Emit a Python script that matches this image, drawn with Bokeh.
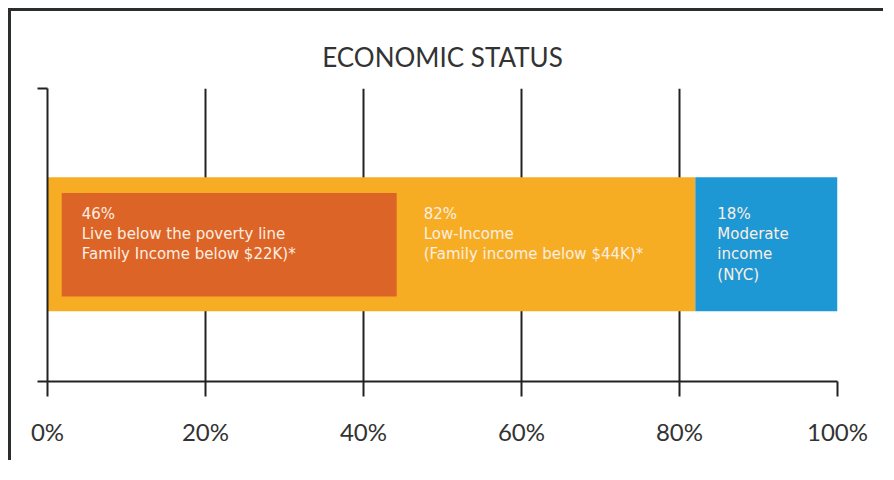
from bokeh.plotting import figure
from bokeh.models import Range1d, FixedTicker, LinearAxis, ColumnDataSource
from bokeh.embed import file_html
from bokeh.resources import INLINE
from bokeh.core.properties import value

# ---- data ----
title_text = "ECONOMIC STATUS"
segment_names = ["Low-Income", "Moderate income"]
segment_left = [0, 82]
segment_right = [82, 100]
segment_colors = ["#F6AD23", "#1E98D5"]

inner_name = ["Live below the poverty line"]
inner_left = [1.8]
inner_right = [44.2]
inner_colors = ["#DD6427"]

values = [46, 82, 18]
label_texts = [
    "46%\nLive below the poverty line\nFamily Income below $22K)*",
    "82%\nLow-Income\n(Family income below $44K)*",
    "18%\nModerate\nincome\n(NYC)",
]

tick_values = [0, 20, 40, 60, 80, 100]
tick_labels = ["0%", "20%", "40%", "60%", "80%", "100%"]

FONT = "Lato"
INK = "#222222"

p = figure(
    width=875, height=452,
    x_range=Range1d(0, 100), y_range=Range1d(0, 1),
    output_backend="svg", toolbar_location=None,
    x_axis_location=None, y_axis_location=None,
    min_border_left=36, min_border_right=49, min_border_top=77, min_border_bottom=82,
    styles={"border-left": "3px solid #2a2e2e", "border-top": "3px solid #2a2e2e",
            "margin-left": "8px", "margin-top": "8px"},
)
p.outline_line_color = None
p.background_fill_color = "white"
p.border_fill_color = "white"

p.title.text = title_text
p.title.align = "center"
p.title.text_font = FONT
p.title.text_font_size = "26px"
p.title.text_font_style = "normal"
p.title.text_color = "#333333"
p.title.standoff = 32

# x axis
xaxis = LinearAxis(ticker=FixedTicker(ticks=tick_values))
xaxis.major_label_overrides = {v: l for v, l in zip(tick_values, tick_labels)}
xaxis.axis_line_color = INK
xaxis.axis_line_width = 2
xaxis.major_tick_line_color = INK
xaxis.major_tick_line_width = 2
xaxis.major_tick_out = 15
xaxis.major_tick_in = 0
xaxis.minor_tick_line_color = None
xaxis.major_label_text_font = FONT
xaxis.major_label_text_font_size = "24px"
xaxis.major_label_text_color = "#333333"
xaxis.major_label_standoff = 20
p.add_layout(xaxis, "below")

# y axis
yaxis = LinearAxis(ticker=FixedTicker(ticks=[0, 1]))
yaxis.major_label_text_color = None
yaxis.axis_line_color = INK
yaxis.axis_line_width = 2
yaxis.major_tick_line_color = INK
yaxis.major_tick_line_width = 2
yaxis.major_tick_out = 10
yaxis.major_tick_in = 0
yaxis.minor_tick_line_color = None
yaxis.major_label_standoff = 0
p.add_layout(yaxis, "left")

p.xgrid.ticker = FixedTicker(ticks=tick_values)
p.xgrid.grid_line_color = INK
p.xgrid.grid_line_width = 2
p.ygrid.grid_line_color = None

# bars
seg = ColumnDataSource(dict(left=segment_left, right=segment_right, color=segment_colors, name=segment_names))
p.quad(left="left", right="right", bottom=0.24, top=0.697, fill_color="color", line_color=None, source=seg)

inn = ColumnDataSource(dict(left=inner_left, right=inner_right, color=inner_colors, name=inner_name))
p.quad(left="left", right="right", bottom=0.29, top=0.643, fill_color="color", line_color=None, source=inn)

# labels anchored to bar edges
label_x = [inner_left[0], inner_right[0], segment_left[1]]
label_dx = [20, 27, 22]
lab = ColumnDataSource(dict(x=label_x, dx=label_dx, text=label_texts, v=values))
p.text(x="x", y=0.604, x_offset="dx", text="text", source=lab,
       text_font=value("DejaVu Sans"), text_font_size="15px", text_color="#FCEEE2",
       text_baseline="top", text_align="left", text_line_height=1.13)

open("out.html", "w").write(file_html(p, INLINE))
